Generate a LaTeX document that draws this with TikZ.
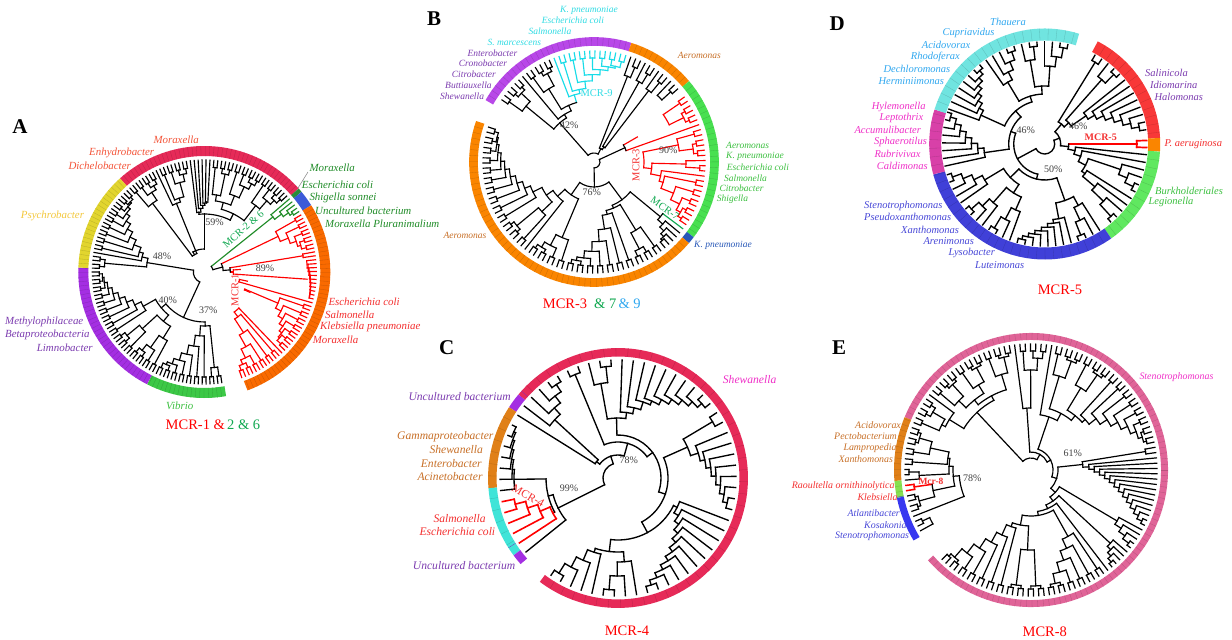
\documentclass[tikz,border=0pt]{standalone}
\usepackage{fontspec}
\setmainfont{Liberation Serif}
\definecolor{crim}{HTML}{E62A58}
\definecolor{yel}{HTML}{E2D52E}
\definecolor{purp}{HTML}{A42FE2}
\definecolor{grn}{HTML}{3CC846}
\definecolor{ora}{HTML}{F96A00}
\definecolor{blu}{HTML}{3B5AD8}
\definecolor{dgrn}{HTML}{2A8C3A}
\definecolor{bora}{HTML}{FA8500}
\definecolor{bpur}{HTML}{B848E8}
\definecolor{bgrn}{HTML}{48E050}
\definecolor{bblu}{HTML}{2858B8}
\definecolor{dred}{HTML}{F83838}
\definecolor{dtea}{HTML}{70E4E0}
\definecolor{dpin}{HTML}{D840A8}
\definecolor{dblu}{HTML}{4040D8}
\definecolor{dgr}{HTML}{60E860}
\definecolor{tea}{HTML}{40E4D8}
\definecolor{cora}{HTML}{E08018}
\definecolor{epin}{HTML}{E06498}
\definecolor{egrn}{HTML}{88E050}
\definecolor{eblu}{HTML}{3838F0}
\definecolor{tred}{HTML}{F43030}
\definecolor{torg}{HTML}{F4553A}
\definecolor{tyel}{HTML}{F4C83C}
\definecolor{tpur}{HTML}{7C3CB0}
\definecolor{tgrn}{HTML}{3CC040}
\definecolor{tdgr}{HTML}{208C28}
\definecolor{tbrn}{HTML}{C87028}
\definecolor{tcya}{HTML}{30DCE4}
\definecolor{tsky}{HTML}{30A8F0}
\definecolor{tmag}{HTML}{F030C8}
\definecolor{tblu}{HTML}{4848D8}
\definecolor{tsgr}{HTML}{10A850}
\definecolor{mcy}{HTML}{18DCE8}
\newcount\tsp
\newcount\lbc
\newcommand\tpush[3]{\global\advance\tsp 1
 \expandafter\xdef\csname sa\the\tsp\endcsname{#1}%
 \expandafter\xdef\csname sr\the\tsp\endcsname{#2}%
 \expandafter\xdef\csname sc\the\tsp\endcsname{#3}}
\def\brc{black}
\def\pw{1.6}
\newcommand\setang[1]{\xdef\curA{#1}}
\newcommand\startT[3]{\global\tsp=0 \xdef\curA{#1}\xdef\stepA{#2}\xdef\Rt{#3}\def\brc{black}}
\newcommand\lf{\tpush{\curA}{\Rt}{\brc}\pgfmathparse{\curA+\stepA}\xdef\curA{\pgfmathresult}}
\newcommand\lfat[1]{\tpush{#1}{\Rt}{\brc}}
\newcommand\Ls[1]{\foreach \nn in {1,...,#1}{\lf}}
\newcommand\J[1]{%
 \edef\xa{\csname sa\the\tsp\endcsname}\edef\xr{\csname sr\the\tsp\endcsname}\edef\xc{\csname sc\the\tsp\endcsname}%
 \global\advance\tsp -1
 \edef\ya{\csname sa\the\tsp\endcsname}\edef\yr{\csname sr\the\tsp\endcsname}\edef\yc{\csname sc\the\tsp\endcsname}%
 \global\advance\tsp -1
 \pgfmathsetmacro\mm{(\xa+\ya)/2}%
 \edef\rj{#1}%
 \edef\tmpa{\noexpand\draw[branch,\yc] (\ya:\yr) -- (\ya:\rj);}\tmpa
 \edef\tmpa{\noexpand\draw[branch,\xc] (\xa:\xr) -- (\xa:\rj);}\tmpa
 \edef\tmpa{\noexpand\draw[branch,\brc] (\ya:\rj) arc[start angle=\ya,end angle=\xa,radius=\rj];}\tmpa
 \tpush{\mm}{\rj}{\brc}}
\newcommand\Jm[2]{\J{#1}\expandafter\xdef\csname sa\the\tsp\endcsname{#2}}
\newcommand\Jn[3]{% n joins from r1 to r2
 \pgfmathtruncatemacro\jc{#1}%
 \foreach \ii in {1,...,\jc}{\pgfmathsetmacro\rr{#2+(#3-#2)*pow((\ii-1+0.001)/max(#1-1,1),\pw)}\J{\rr}}}
\newcommand\Cb[3]{\Ls{#1}\pgfmathtruncatemacro\njn{#1-1}\Jn{\njn}{#2}{#3}}
\newcommand\Cc[3]{% #1 cherries on a comb
 \foreach \cc in {1,...,#1}{\lf\lf\pgfmathsetmacro\rc{\Rt-7}\J{\rc}}%
 \pgfmathtruncatemacro\njn{#1-1}\Jn{\njn}{#2}{#3}}
\newcommand\ring[6]{% r w a1 a2 col step
 \draw[#5,line width=#2pt] (#3:#1) arc[start angle=#3,end angle=#4,radius=#1];
 \pgfmathtruncatemacro\nt{max(1,int((#3-#4)/#6))}%
 \foreach \k in {1,...,\nt}{\pgfmathsetmacro\ta{#3-\k*#6+0.0001}\pgfmathsetmacro\ri{#1-#2/2}\pgfmathsetmacro\ro{#1+#2/2}%
   \draw[#5!82!black,line width=0.3pt] (\ta:\ri) -- (\ta:\ro);}}
\def\lsz{11}
\def\bw{1.15pt}
\tikzset{
 branch/.style={line width=\bw,line cap=rect},
 lab/.style={anchor=west,inner sep=0pt,font=\itshape\fontsize{\lsz}{\lsz}\selectfont},
 pct/.style={inner sep=0pt,text=black!75,font=\fontsize{10}{10}\selectfont},
 ttl/.style={inner sep=0pt,anchor=west,font=\fontsize{14.5}{14.5}\selectfont},
 ltr/.style={inner sep=0pt,font=\bfseries\fontsize{21}{21}\selectfont},
 mcr/.style={inner sep=0pt,font=\fontsize{10.5}{10.5}\selectfont},
}
\newcommand\lb[4]{\global\advance\lbc 1 \node[lab,text=#1] (t\the\lbc) at (#2,#3) {#4};}
\begin{document}
\begin{tikzpicture}[x=1pt,y=-1pt]
\useasboundingbox (0,0) rectangle (1232,640);
\fill[white] (0,0) rectangle (1232,640);
%%%% A
\begin{scope}[shift={(204.3,272)},y=1pt]
 \ring{121}{10}{132}{41.5}{crim}{2.02}
 \ring{121}{10}{41.5}{39.5}{dgrn}{5}
 \ring{121}{10}{39.5}{32}{blu}{9}
 \ring{121}{10}{32}{-70}{ora}{2.02}
 \ring{121}{10}{280}{243}{grn}{2.02}
 \ring{121}{10}{243}{178}{purp}{2.02}
 \ring{121}{10}{178}{132}{yel}{2.02}
 \startT{279}{-2.02}{112}
 \Cc{2}{96}{58}\Cc{7}{100}{64}\J{54}
 \Cc{4}{100}{78}\Cc{3}{100}{84}\J{64}\Cc{9}{102}{70}\J{56}\J{50}
 \Cc{2}{100}{88}\lf\Cc{9}{102}{68}\J{64}\J{58}
 \J{11}
 \Cc{4}{100}{86}\lf\Cc{4}{100}{78}\J{74}\J{20}
 \Cb{6}{70}{60}
 \Cc{3}{100}{78}\Cc{4}{100}{82}\J{72}\Cc{4}{100}{84}\J{65}\Jm{58}{90}
 \J{23}
 \def\brc{tdgr}\Cb{5}{106}{88}
 \def\brc{red}
 \Cc{5}{100}{82}
 \lf\lf\J{100}
 \Ls{11}\Jn{9}{108}{104}\Jm{103}{-4}
 \lf\Cc{7}{100}{80}
 \lf\Cc{6}{100}{56}
 \Jm{50}{-24}\Jm{44}{-12}\Jm{36}{4}\J{29}
 \def\brc{black}\J{26}\J{19}\J{9}
\end{scope}
\def\lsz{10.9}
\lb{torg}{153.3}{140}{Moraxella}
\lb{torg}{89}{152.7}{Enhydrobacter}
\lb{torg}{68.3}{165.7}{Dichelobacter}
\lb{tyel}{20.7}{216}{Psychrobacter}
\lb{tpur}{5}{321.7}{Methylophilaceae}
\lb{tpur}{5}{334.7}{Betaproteobacteria}
\lb{tpur}{36.7}{347.3}{Limnobacter}
\lb{tgrn}{166}{406}{Vibrio}
\lb{tdgr}{309.3}{167.3}{Moraxella}
\lb{tdgr}{301.7}{185}{Escherichia coli}
\lb{tdgr}{309.3}{197.7}{Shigella sonnei}
\lb{tdgr}{315}{210.7}{Uncultured bacterium}
\lb{tdgr}{325}{223.3}{Moraxella Pluranimalium}
\lb{tred}{328.3}{301.7}{Escherichia coli}
\lb{tred}{325}{314.3}{Salmonella}
\lb{tred}{320}{327.3}{Klebsiella pneumoniae}
\lb{tred}{312.7}{340}{Moraxella}
\coordinate (la) at (308,172); \coordinate (lb) at (298,188);
\draw[gray,line width=0.5pt] (la) -- (lb);
\node[pct] (pa1) at (214.5,222.3) {59\%};
\node[pct] (pa2) at (162,256.7) {48\%};
\node[pct] (pa3) at (167.7,300.7) {40\%};
\node[pct] (pa4) at (208.3,310) {37\%};
\node[pct] (pa5) at (265,268.7) {89\%};
\node[mcr,text=tsgr,rotate=42] (ma1) at (243.3,229) {MCR-2 \& 6};
\node[mcr,text=tred,rotate=90] (ma2) at (235,290) {MCR-1};
\node[ttl,text=red] (ta1) at (165.5,425) {MCR-1 \&};
\node[ttl,text=tsgr] (ta2) at (227,425) {2 \& 6};
\node[ltr] (la1) at (20,127) {A};
%%%% B
\begin{scope}[shift={(594,162)},y=1pt]
 \ring{120.5}{8.7}{150.3}{72.6}{bpur}{2.69}
 \ring{120.5}{8.7}{72.6}{40.4}{bora}{2.69}
 \ring{120.5}{8.7}{40.4}{-37}{bgrn}{2.69}
 \ring{120.5}{8.7}{-37}{-40.5}{bblu}{9}
 \ring{120.5}{8.7}{-40.5}{-199.2}{bora}{2.69}
 \startT{148.7}{-2.69}{111}
 \lf\Cc{3}{100}{88}\lf\Cc{3}{100}{86}
 \def\brc{mcy}\lf\Cc{7}{98}{74}\J{70}\def\brc{black}
 \J{62}\J{56}\J{52}
 \Cb{3}{103}{92}\Cb{3}{103}{92}\Cb{3}{103}{90}\J{18}\J{15}
 \J{9}
 \Cb{3}{104}{92}
 \def\brc{red}
 \lf\Cc{3}{100}{84}\lf\Cc{3}{100}{86}\Cb{3}{106}{92}\lf\Cc{5}{100}{72}
 \J{68}\J{58}\Jm{50}{30}
 \def\brc{black}\J{34}
 \def\brc{tsgr}\lf\def\brc{black}\Ls{5}\Jn{5}{104}{86}
 \Cc{3}{98}{80}\Cc{7}{100}{54}\J{50}
 \J{47}
 \Cc{4}{100}{82}
 \lf\Cc{3}{100}{72}
 \Cc{10}{100}{68}\J{58}\J{50}
 \J{40}\J{25}\J{6}
\end{scope}
\def\lsz{9.5}
\lb{tcya}{560}{10}{K. pneumoniae}
\lb{tcya}{541.7}{20.7}{Escherichia coli}
\lb{tcya}{528.3}{31.7}{Salmonella}
\lb{tcya}{487.3}{42}{S. marcescens}
\lb{tpur}{467.3}{53}{Enterobacter}
\lb{tpur}{458.7}{63.7}{Cronobacter}
\lb{tpur}{451.7}{74.7}{Citrobacter}
\lb{tpur}{445}{85.7}{Buttiauxella}
\lb{tpur}{440}{96.3}{Shewanella}
\lb{tbrn}{677.7}{55}{Aeromonas}
\lb{tbrn}{443.3}{235.7}{Aeromonas}
\lb{tgrn}{726}{145.7}{Aeromonas}
\lb{tgrn}{726}{156.7}{K. pneumoniae}
\lb{tgrn}{726.7}{167.3}{Escherichia coli}
\lb{tgrn}{724}{178}{Salmonella}
\lb{tgrn}{719.3}{188.7}{Citrobacter}
\lb{tgrn}{716.7}{199.7}{Shigella}
\lb{bblu}{694}{245}{K. pneumoniae}
\node[mcr,text=tcya] (mb1) at (596.7,93.3) {MCR-9};
\node[mcr,text=tred,rotate=90] (mb2) at (636,165) {MCR-3};
\node[mcr,text=tsgr,rotate=-35] (mb3) at (665,208.3) {MCR-7};
\node[pct] (pb1) at (569.3,125) {42\%};
\node[pct] (pb2) at (668.3,150) {90\%};
\node[pct] (pb3) at (591.7,192.7) {76\%};
\node[ttl,text=red] (tb1) at (542.7,304) {MCR-3};
\node[ttl,text=tsgr] (tb2) at (594,304) {\& 7};
\node[ttl,text=tsky] (tb3) at (618.3,304) {\& 9};
\node[ltr] (lb1) at (434,19) {B};
%%%% C
\def\bw{1.35pt}
\def\pw{1}
\begin{scope}[shift={(618,478)},y=1pt]
 \ring{125.7}{8.5}{140}{-127}{crim}{5.45}
 \ring{125.7}{8.5}{147}{140}{purp}{9}
 \ring{125.7}{8.5}{184.5}{147}{cora}{5.45}
 \ring{125.7}{8.5}{216.5}{184.5}{tea}{5.45}
 \ring{125.7}{8.5}{221.5}{216.5}{purp}{9}
 \startT{218.8}{-5.45}{118}
 \lf
 \def\brc{red,line width=1.6pt}\Cb{5}{106}{74}\def\brc{black}
 \Cb{7}{114}{104}
 \J{72}\J{67}
 \lf\Cb{5}{112}{86}\J{27}
 \lf\lf\J{112}
 \Cb{3}{112}{96}\lf\lf\lf\Cb{7}{112}{84}\J{80}\J{72}\J{66}\J{60}
 \lf\lf\J{110}\Cb{8}{112}{84}\J{76}
 \Cb{11}{112}{66}
 \Cb{4}{112}{84}\Cb{5}{112}{78}\J{74}\J{62}
 \J{50}\J{43}\J{36}\J{23}\J{15}
\end{scope}
\def\lsz{11.6}
\lb{tpur}{408.3}{396.7}{Uncultured bacterium}
\lb{tbrn}{397}{436.7}{Gammaproteobacter}
\lb{tbrn}{429.3}{449.3}{Shewanella}
\lb{tbrn}{420.7}{463.3}{Enterobacter}
\lb{tbrn}{417.3}{476.7}{Acinetobacter}
\lb{tred}{433.3}{518.3}{Salmonella}
\lb{tred}{419.3}{532}{Escherichia coli}
\lb{tpur}{412.7}{565.7}{Uncultured bacterium}
\lb{tmag}{722.7}{380}{Shewanella}
\node[mcr,text=tred,rotate=-30,font=\fontsize{11.5}{11.5}\selectfont] (mc1) at (528.3,495.7) {MCR-4};
\node[pct] (pc1) at (569,488.7) {99\%};
\node[pct] (pc2) at (628.7,460.7) {78\%};
\node[ttl,text=red,anchor=center] (tc1) at (627,630.7) {MCR-4};
\node[ltr] (lc1) at (446.7,347.3) {C};
%%%% D
\begin{scope}[shift={(1044.7,144)},y=1pt]
 \ring{109.5}{12}{62.7}{3}{dred}{4.375}
 \ring{109.5}{12}{3}{-3.8}{bora}{9}
 \ring{109.5}{12}{-3.8}{-54.8}{dgr}{4.375}
 \ring{109.5}{12}{-54.8}{-164.7}{dblu}{4.375}
 \ring{109.5}{12}{-164.7}{-197.4}{dpin}{4.375}
 \ring{109.5}{12}{-197.4}{-287.4}{dtea}{4.375}
 \startT{60.5}{-4.375}{102}
 \lf\lf\J{96}\Cb{3}{98}{86}\Cb{8}{96}{50}\J{32}\J{26}
 \def\brc{red,line width=1.7pt}\lfat{2}\lfat{-2}\J{92}\def\brc{black}
 \setang{-6}
 \lf\lf\Cb{4}{98}{80}\Cb{5}{98}{50}\J{46}\J{38}\J{31}
 \J{24}\J{16}
 \setang{-57.5}
 \Cb{4}{98}{70}\Cb{8}{98}{76}\J{60}
 \Cb{4}{98}{72}\Cb{4}{98}{78}\J{58}\Cb{5}{98}{70}\J{48}\J{36}
 \setang{-167.5}
 \Cb{8}{98}{61}
 \setang{-200}
 \Cb{8}{98}{70}\Cb{5}{98}{72}\Cb{3}{98}{85}\Cb{4}{98}{78}\J{58}\J{50}\J{44}
 \J{36}\J{31}\J{10}
\end{scope}
\def\lsz{10.5}
\lb{tsky}{990}{21.7}{Thauera}
\lb{tsky}{942.3}{33.3}{Cupriavidus}
\lb{tsky}{921.7}{45.3}{Acidovorax}
\lb{tsky}{910.7}{56.7}{Rhodoferax}
\lb{tsky}{883.3}{68.7}{Dechloromonas}
\lb{tsky}{878.3}{80.7}{Herminiimonas}
\lb{tmag}{871.7}{106.7}{Hylemonella}
\lb{tmag}{879.3}{118.3}{Leptothrix}
\lb{tmag}{854.3}{130}{Accumulibacter}
\lb{tmag}{874}{142}{Sphaerotilus}
\lb{tmag}{874.3}{154}{Rubrivivax}
\lb{tmag}{876.7}{165.7}{Caldimonas}
\lb{tblu}{864}{205.7}{Stenotrophomonas}
\lb{tblu}{864}{217.3}{Pseudoxanthomonas}
\lb{tblu}{901}{229.7}{Xanthomonas}
\lb{tblu}{923.3}{241}{Arenimonas}
\lb{tblu}{948.3}{253.3}{Lysobacter}
\lb{tblu}{975}{265}{Luteimonas}
\lb{tgrn}{1155}{190.7}{Burkholderiales}
\lb{tgrn}{1148.3}{202.3}{Legionella}
\lb{tpur}{1145}{73.3}{Salinicola}
\lb{tpur}{1150}{85}{Idiomarina}
\lb{tpur}{1154.3}{97.3}{Halomonas}
\lb{tred}{1164.3}{144.3}{P. aeruginosa}
\node[mcr,text=tred,font=\bfseries\fontsize{10}{10}\selectfont] (md1) at (1100.7,137) {MCR-5};
\node[pct] (pd1) at (1025.7,130.7) {46\%};
\node[pct] (pd2) at (1078.3,126) {46\%};
\node[pct] (pd3) at (1053.3,169.3) {50\%};
\node[ttl,text=red,anchor=center] (td1) at (1060,289.3) {MCR-5};
\node[ltr] (ld1) at (837.3,24) {D};
%%%% E
\def\bw{1.2pt}
\def\pw{1.3}
\begin{scope}[shift={(1031,470)},y=1pt]
 \ring{133.5}{7}{157.3}{-138.8}{epin}{2.42}
 \ring{133.5}{7}{184.6}{157.3}{cora}{2.42}
 \ring{133.5}{7}{191.8}{184.6}{egrn}{2.42}
 \ring{133.5}{7}{211}{191.8}{eblu}{19.5}
 \startT{208.8}{-2.42}{126}
 \Cb{3}{120}{112}
 \lf\Cc{2}{116}{106}
 \def\brc{red,line width=1.5pt}\lf\lf\J{118}\def\brc{black}
 \J{100}
 \Cb{3}{122}{112}\Cc{4}{116}{84}\J{82}
 \J{78}\J{72}
 \Cc{3}{114}{100}\lf\J{96}
 \Cc{3}{116}{100}\Cc{3}{116}{100}\J{90}\Cc{3}{116}{100}\J{84}
 \J{79}
 \lf\Cc{3}{112}{100}\J{62}
 \lf\Cc{3}{116}{98}
 \Cc{3}{116}{96}\Cc{8}{116}{74}\J{70}\J{64}\J{56}
 \def\pw{1}
 \lf\lf\J{116}\Cb{14}{122}{58}\J{52}
 \Cb{5}{122}{100}\Cb{5}{122}{108}\lf\Cc{6}{116}{76}
 \Cc{2}{116}{100}\Cc{2}{116}{94}\J{80}\Cc{7}{116}{60}\J{56}
 \J{46}\J{42}\J{38}\J{33}
 \J{27}\J{22}\J{18}\J{12}
\end{scope}
\def\lsz{9.9}
\lb{tmag}{1139.3}{376.7}{Stenotrophomonas}
\lb{tbrn}{855}{425.3}{Acidovorax}
\lb{tbrn}{834}{436.3}{Pectobacterium}
\lb{tbrn}{843.3}{447.7}{Lampropedia}
\lb{tbrn}{838.3}{458.7}{Xanthomonas}
\lb{tred}{791.7}{485.7}{Raoultella ornithinolytica}
\lb{tred}{857.3}{497}{Klebsiella}
\lb{tblu}{847.3}{513.3}{Atlantibacter}
\lb{tblu}{864}{525}{Kosakonia}
\lb{tblu}{835}{536.3}{Stenotrophomonas}
\node[mcr,text=tred,font=\bfseries\fontsize{9.5}{9.5}\selectfont] (me1) at (931,481.7) {Mcr-8};
\node[pct] (pe1) at (972.3,478.3) {78\%};
\node[pct] (pe2) at (1072.7,453.3) {61\%};
\node[ttl,text=red,anchor=center] (te1) at (1044.8,631.7) {MCR-8};
\node[ltr] (le1) at (839,347.3) {E};
\end{tikzpicture}
\end{document}
